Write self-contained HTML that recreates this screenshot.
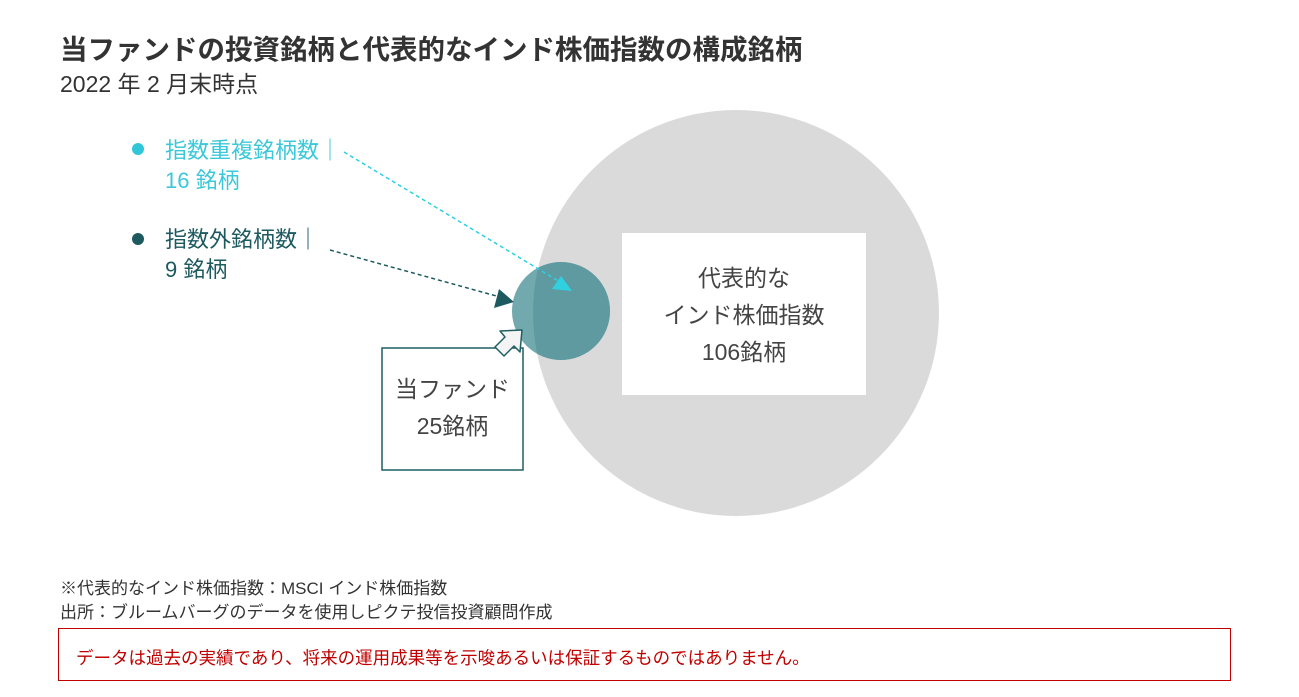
<!DOCTYPE html>
<html><head><meta charset="utf-8"><style>
body{margin:0;width:1299px;height:697px;background:#fff;position:relative;overflow:hidden;font-family:"Liberation Sans","Noto Sans CJK JP",sans-serif}
.a{position:absolute;white-space:nowrap}
</style></head><body>
<div class="a" style="left:60px;top:27px;font-size:27.5px;color:#333;font-weight:bold">当ファンドの投資銘柄と代表的なインド株価指数の構成銘柄</div>
<div class="a" style="left:60px;top:65px;font-size:23px;color:#333">2022 年 2 月末時点</div>
<svg class="a" style="left:0;top:0" width="1299" height="697">
<defs>
<clipPath id="c"><circle cx="736" cy="313" r="203"/></clipPath>
</defs>
<circle cx="736" cy="313" r="203" fill="#dadada"/>
<rect x="622" y="233" width="244" height="162" fill="#fff"/>
<circle cx="561" cy="311" r="49" fill="#72a9ae"/>
<circle cx="561" cy="311" r="49" fill="#5f9aa0" clip-path="url(#c)"/>
<line x1="344" y1="152" x2="560" y2="282" stroke="#2fd0e0" stroke-width="1.5" stroke-dasharray="4,3"/>
<polygon points="572,291 552,289 561,276" fill="#2fd0e0"/>
<line x1="330" y1="250" x2="500" y2="297" stroke="#1d5a60" stroke-width="1.5" stroke-dasharray="4,3"/>
<polygon points="514,302 494,308 499,289" fill="#1d5a60"/>
<rect x="382" y="348" width="141" height="122" fill="#fff" stroke="#1f5f63" stroke-width="1.5"/>
<polygon points="522,330 500,331 505,337 495,347 504,356 514,346 520,352" fill="#f4f4f4" stroke="#1f5f63" stroke-width="1.5" stroke-linejoin="round"/>
<circle cx="138" cy="149" r="6" fill="#2fc7d8"/>
<circle cx="138" cy="239" r="6" fill="#1d5a60"/>
</svg>
<div class="a" style="left:165px;top:136px;font-size:22px;color:#3cc8d8;line-height:30px">指数重複銘柄数｜<br>16 銘柄</div>
<div class="a" style="left:165px;top:225px;font-size:22px;color:#1d5a60;line-height:30px">指数外銘柄数｜<br>9 銘柄</div>
<div class="a" style="left:622px;top:260px;width:244px;text-align:center;font-size:23px;color:#444;line-height:37px">代表的な<br>インド株価指数<br>106銘柄</div>
<div class="a" style="left:382px;top:371px;width:141px;text-align:center;font-size:23px;color:#444;line-height:37px">当ファンド<br>25銘柄</div>
<div class="a" style="left:60px;top:577px;font-size:17px;color:#333;line-height:24px">※代表的なインド株価指数：MSCI インド株価指数<br>出所：ブルームバーグのデータを使用しピクテ投信投資顧問作成</div>
<div class="a" style="left:58px;top:628px;width:1173px;height:53px;border:1px solid #c00000;box-sizing:border-box"></div>
<div class="a" style="left:76px;top:645px;font-size:17.5px;color:#c00000">データは過去の実績であり、将来の運用成果等を示唆あるいは保証するものではありません。</div>
</body></html>
